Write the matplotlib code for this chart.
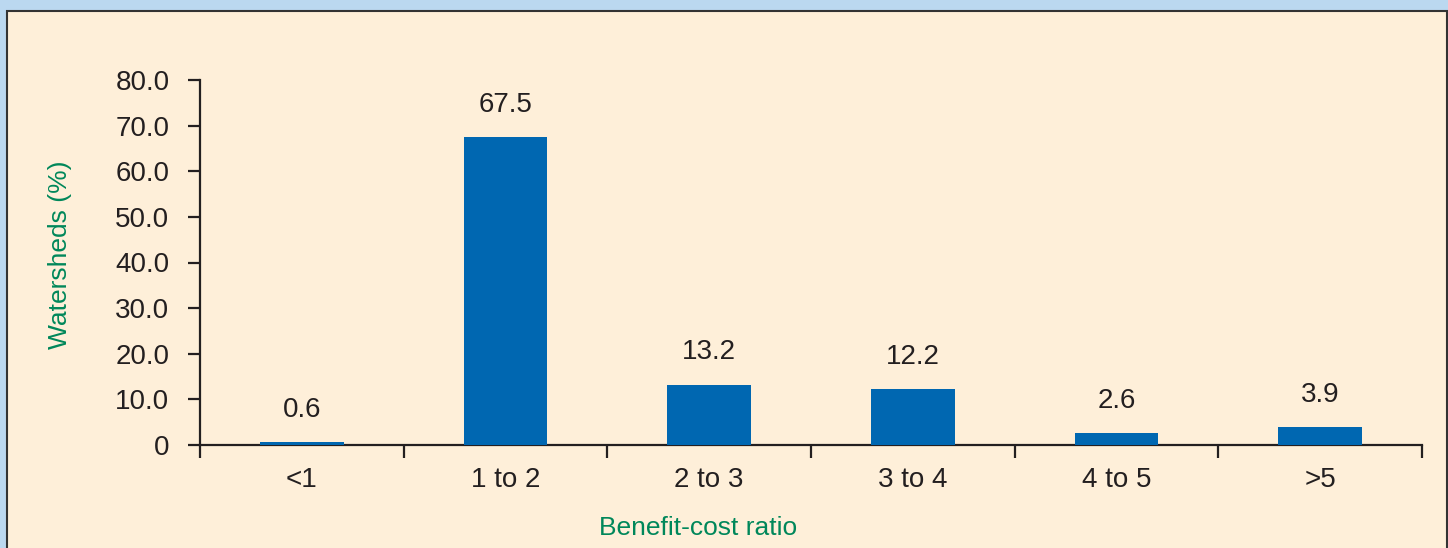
import matplotlib.pyplot as plt
from matplotlib.patches import Rectangle

plt.rcParams['font.family'] = ['Liberation Sans', 'DejaVu Sans']

# data
categories = ["<1", "1 to 2", "2 to 3", "3 to 4", "4 to 5", ">5"]
watersheds = [0.6, 67.5, 13.2, 12.2, 2.6, 3.9]

blue = "#0067b1"
green = "#00875a"
dark = "#231f20"

fig = plt.figure(figsize=(14.48, 5.48), dpi=100, facecolor="#bbd8f0")
# cream panel with dark outline
fig.patches.append(Rectangle((7 / 1448, -0.02), 1440 / 1448, 1.02 - 11 / 548,
                             transform=fig.transFigure, facecolor="#feefd9",
                             edgecolor="#333333", linewidth=1.5, zorder=-10))

ax = fig.add_axes([200 / 1448, 1 - 445 / 548, 1222 / 1448, 365 / 548])
ax.set_facecolor("none")
ax.set_zorder(2)

x = range(len(categories))
ax.bar(x, watersheds, width=0.41, color=blue, zorder=3)

for i, v in enumerate(watersheds):
    ax.annotate("%.1f" % v, (i, v), xytext=(0, 14), textcoords="offset points",
                ha="center", va="bottom", fontsize=20, color=dark)

ax.set_xlim(-0.5, len(categories) - 0.5)
ax.set_ylim(0, 80)

ax.set_yticks(range(0, 81, 10))
ax.set_yticklabels(["0"] + ["%.1f" % t for t in range(10, 81, 10)])

ax.set_xticks([i - 0.5 for i in range(len(categories) + 1)])
ax.set_xticklabels([])
ax.set_xticks(list(x), minor=True)
ax.set_xticklabels(categories, minor=True)

ax.tick_params(axis="y", direction="out", length=9, width=1.6, color=dark,
               labelsize=20, labelcolor=dark, pad=13)
ax.tick_params(axis="x", which="major", direction="out", length=9, width=1.6, color=dark)
ax.tick_params(axis="x", which="minor", length=0, labelsize=20, labelcolor=dark, pad=16)

for s in ["top", "right"]:
    ax.spines[s].set_visible(False)
for s in ["left", "bottom"]:
    ax.spines[s].set_linewidth(1.6)
    ax.spines[s].set_color(dark)

fig.text(60 / 1448, 1 - 255 / 548, "Watersheds (%)", rotation=90, ha="center",
         va="center", fontsize=19, color=green)
fig.text(698 / 1448, 1 - 528 / 548, "Benefit-cost ratio", ha="center",
         va="center", fontsize=19, color=green)

fig.savefig("out.png", dpi=100, facecolor=fig.get_facecolor())
